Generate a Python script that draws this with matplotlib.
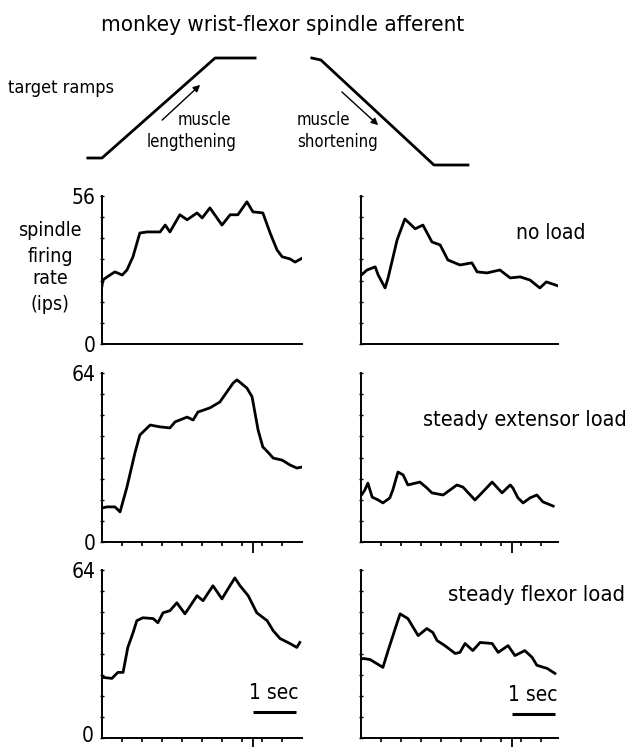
import numpy as np
import matplotlib
matplotlib.use('Agg')
import matplotlib.pyplot as plt

plt.rcParams['font.family'] = ['DejaVu Sans']
plt.rcParams['font.stretch'] = 'condensed'

# firing rate traces: time (s) and rate (ips)
t_len_none = [0.0, 0.02, 0.12, 0.30, 0.47, 0.58, 0.72, 0.88, 1.05, 1.35, 1.47, 1.58, 1.81, 1.98, 2.21, 2.33,
              2.51, 2.79, 2.98, 3.16, 3.37, 3.51, 3.74, 3.91, 4.07, 4.19, 4.37, 4.49, 4.67]
r_len_none = [22.0, 24.2, 25.4, 27.3, 26.1, 28.0, 33.0, 42.0, 42.4, 42.4, 45.0, 42.4, 48.9, 47.0, 49.6, 47.7,
              51.5, 45.0, 48.9, 48.9, 53.8, 50.0, 49.6, 42.0, 35.6, 33.0, 32.2, 31.0, 32.6]
t_sho_none = [0.0, 0.14, 0.33, 0.40, 0.56, 0.63, 0.84, 1.02, 1.26, 1.44, 1.65, 1.84, 2.02, 2.30, 2.58, 2.70,
              2.93, 3.23, 3.47, 3.70, 3.93, 4.16, 4.31, 4.58]
r_sho_none = [26.0, 28.0, 29.2, 26.1, 21.2, 25.0, 39.4, 47.3, 43.6, 45.0, 38.6, 37.5, 31.8, 29.9, 30.7, 27.3,
              26.9, 28.0, 25.0, 25.4, 24.2, 21.2, 23.5, 22.0]

t_len_ext = [0.0, 0.12, 0.30, 0.42, 0.58, 0.77, 0.88, 1.12, 1.35, 1.58, 1.70, 1.98, 2.12, 2.23, 2.51, 2.74,
             3.05, 3.14, 3.37, 3.49, 3.63, 3.74, 3.86, 3.98, 4.19, 4.37, 4.53, 4.65]
r_len_ext = [12.9, 13.3, 13.3, 11.4, 20.8, 34.0, 40.5, 44.3, 43.6, 43.2, 45.5, 47.3, 46.2, 49.2, 50.8, 53.0,
             60.2, 61.4, 58.3, 55.0, 42.4, 36.0, 34.0, 31.8, 31.0, 29.2, 28.0, 28.4]
t_sho_ext = [0.02, 0.09, 0.16, 0.26, 0.40, 0.51, 0.67, 0.74, 0.86, 0.98, 1.09, 1.37, 1.53, 1.65, 1.91, 2.23,
             2.37, 2.65, 2.81, 3.05, 3.28, 3.47, 3.53, 3.65, 3.77, 3.93, 4.09, 4.23, 4.47]
r_sho_ext = [18.0, 19.7, 22.3, 17.0, 15.9, 14.8, 16.7, 19.7, 26.5, 25.4, 21.6, 22.7, 20.5, 18.6, 17.8, 21.6,
             20.8, 15.9, 18.6, 22.7, 18.6, 21.6, 20.5, 16.7, 14.8, 16.7, 17.8, 15.2, 13.6]

t_len_flx = [0.02, 0.23, 0.37, 0.49, 0.60, 0.72, 0.81, 0.95, 1.19, 1.30, 1.42, 1.58, 1.74, 1.93, 2.21, 2.35,
             2.58, 2.79, 2.93, 3.09, 3.21, 3.40, 3.60, 3.84, 3.98, 4.14, 4.37, 4.53, 4.60]
r_len_flx = [23.1, 22.7, 25.0, 25.0, 34.5, 40.0, 44.7, 45.8, 45.5, 43.9, 47.7, 48.5, 51.5, 47.3, 54.2, 52.3,
             58.0, 53.0, 56.8, 61.0, 58.0, 54.2, 47.7, 44.7, 40.9, 37.9, 36.0, 34.5, 36.4]
t_sho_flx = [0.0, 0.05, 0.21, 0.51, 0.63, 0.84, 0.91, 1.09, 1.33, 1.53, 1.67, 1.77, 1.95, 2.19, 2.30, 2.42,
             2.60, 2.77, 3.05, 3.19, 3.42, 3.58, 3.81, 3.98, 4.09, 4.33, 4.51]
r_sho_flx = [30.0, 30.3, 29.9, 26.9, 33.3, 43.9, 47.3, 45.5, 39.0, 41.7, 40.2, 37.1, 35.2, 32.2, 32.6, 36.0,
             33.3, 36.4, 36.0, 32.6, 35.2, 31.4, 33.3, 30.7, 27.7, 26.5, 24.6]

row_labels = ['no load', 'steady extensor load', 'steady flexor load']
row_ymax = [56, 64, 64]

# target ramp schematic (time in s from start of left traces, normalised position)
ramp_len_t = [-0.33, 0.0, 2.63, 3.56]
ramp_len_p = [0.0, 0.0, 1.0, 1.0]
ramp_sho_t = [4.88, 5.09, 7.72, 8.51]
ramp_sho_p = [1.0, 0.98, -0.07, -0.07]

x_ticks = [0.465 * k for k in range(1, 10)]
mark_t = 3.5
bar_len = 1.0

W, H = 628, 747
fig = plt.figure(figsize=(W / 100, H / 100), dpi=100)


def fx(px):
    return px / W


def fy(py):
    return 1 - py / H


traces = [
    (t_len_none, r_len_none, t_sho_none, r_sho_none),
    (t_len_ext, r_len_ext, t_sho_ext, r_sho_ext),
    (t_len_flx, r_len_flx, t_sho_flx, r_sho_flx),
]
rows_px = [(196, 344), (373, 542), (570, 738)]
cols_px = [(102, 302), (361, 558)]
px_per_s = 43.0

for i, (tl, rl, ts, rs) in enumerate(traces):
    top, bot = rows_px[i]
    for j, (t, r) in enumerate([(tl, rl), (ts, rs)]):
        x0, x1 = cols_px[j]
        ax = fig.add_axes([fx(x0), fy(bot), fx(x1 - x0), (bot - top) / H])
        ax.plot(t, r, color='black', lw=2.0, solid_joinstyle='round')
        ax.set_xlim(0, (x1 - x0) / px_per_s)
        ax.set_ylim(0, row_ymax[i])
        for s in ['top', 'right']:
            ax.spines[s].set_visible(False)
        ax.spines['left'].set_linewidth(1.4)
        ax.spines['bottom'].set_linewidth(1.4)
        ax.set_yticks(np.arange(0, row_ymax[i] + 1, 8))
        if j == 0:
            labels = [''] * len(ax.get_yticks())
            if i < 2:
                labels[0] = '0'
            labels[-1] = str(row_ymax[i])
            ax.set_yticklabels(labels, fontsize=15)
        else:
            ax.set_yticklabels([])
        ax.tick_params(axis='y', direction='inout', length=3, width=1, pad=3)
        if i == 0:
            ax.set_xticks([])
        else:
            ax.set_xticks([mark_t])
            ax.set_xticklabels([])
            ax.set_xticks(x_ticks, minor=True)
            ax.tick_params(axis='x', which='major', direction='out', length=8, width=1.3)
            ax.tick_params(axis='x', which='minor', direction='out', length=3, width=1.2)
        ax.patch.set_visible(False)
        if i == 2:
            ybar = 9.8 if j == 0 else 9.1
            ax.plot([mark_t, mark_t + bar_len], [ybar, ybar], color='black', lw=2.2,
                    solid_capstyle='butt')
            ax.text(mark_t + bar_len / 2, ybar + 3.5, '1 sec', ha='center', va='bottom', fontsize=15)

# zero label of the bottom row sits right on the lower edge
fig.text(fx(94), fy(746), '0', ha='right', va='bottom', fontsize=15)

# ramp schematic across the top
rax = fig.add_axes([0, fy(170), 1, 120 / H])
rax.set_xlim(-102 / px_per_s, (W - 102) / px_per_s)
rax.set_ylim(-0.12, 1.08)
rax.axis('off')
rax.plot(ramp_len_t, ramp_len_p, color='black', lw=2)
rax.plot(ramp_sho_t, ramp_sho_p, color='black', lw=2)
rax.annotate('', xy=(2.33, 0.75), xytext=(1.35, 0.36),
             arrowprops=dict(arrowstyle='-|>', color='black', lw=1, mutation_scale=10))
rax.annotate('', xy=(6.47, 0.31), xytext=(5.53, 0.68),
             arrowprops=dict(arrowstyle='-|>', color='black', lw=1, mutation_scale=10))

fig.text(fx(283), fy(25), 'monkey wrist-flexor spindle afferent', ha='center', va='center', fontsize=16)
fig.text(fx(8), fy(88), 'target ramps', ha='left', va='center', fontsize=13)
fig.text(fx(204), fy(120), 'muscle', ha='center', va='center', fontsize=12)
fig.text(fx(192), fy(142), 'lengthening', ha='center', va='center', fontsize=12)
fig.text(fx(297), fy(120), 'muscle', ha='left', va='center', fontsize=12)
fig.text(fx(297), fy(142), 'shortening', ha='left', va='center', fontsize=12)

for txt, y in zip(['spindle', 'firing', 'rate', '(ips)'], [230, 256, 279, 305]):
    fig.text(fx(50), fy(y), txt, ha='center', va='center', fontsize=14)

fig.text(fx(586), fy(233), row_labels[0], ha='right', va='center', fontsize=15)
fig.text(fx(627), fy(420), row_labels[1], ha='right', va='center', fontsize=15.5)
fig.text(fx(625), fy(595), row_labels[2], ha='right', va='center', fontsize=15.8)

fig.savefig('out.png', dpi=100)
